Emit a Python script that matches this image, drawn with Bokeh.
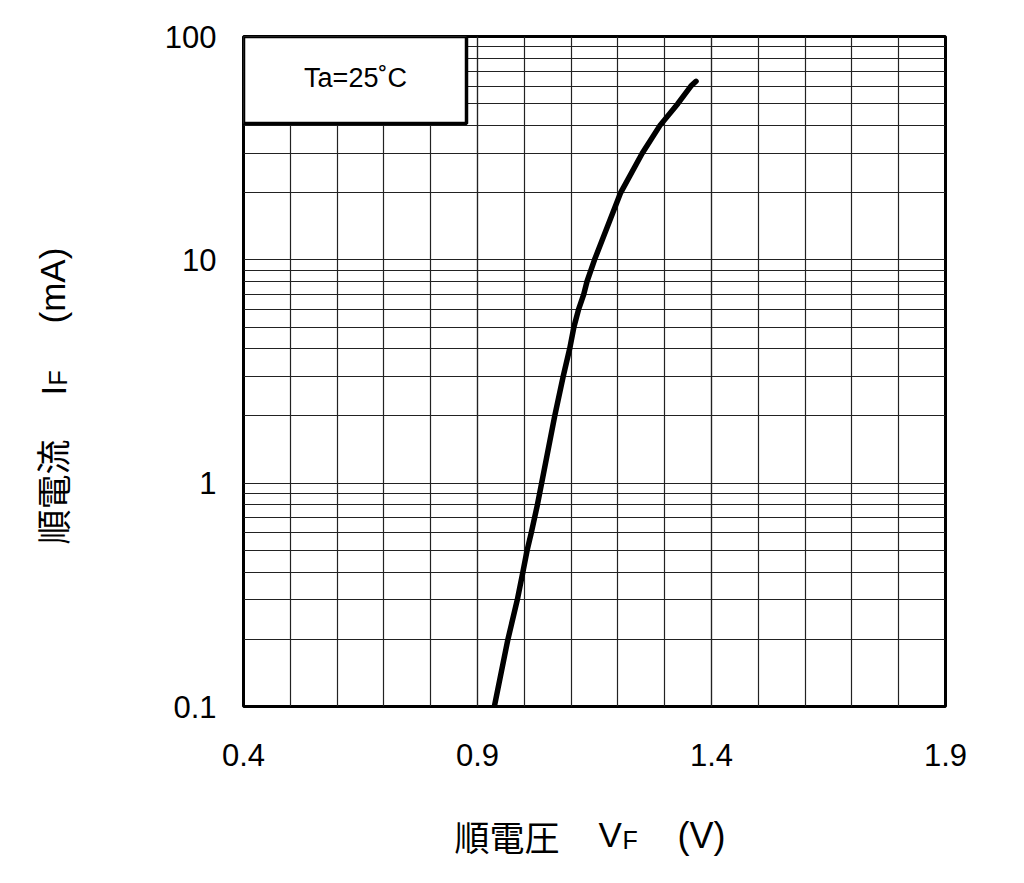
import math
from bokeh.plotting import figure
from bokeh.models import Range1d, FixedTicker, CustomJSTickFormatter, Label, BoxAnnotation
from bokeh.embed import file_html
from bokeh.resources import INLINE

# forward voltage (V) and forward current (mA)
vf = [0.936, 0.965, 0.985, 0.997, 1.006, 1.015, 1.028, 1.037, 1.065, 1.083, 1.097,
      1.106, 1.116, 1.127, 1.134, 1.150, 1.206, 1.252, 1.290, 1.328, 1.356, 1.367]
i_f = [0.1, 0.2, 0.3, 0.4, 0.5, 0.6, 0.8, 1.0, 2.0, 3.0, 4.0,
       5.0, 6.0, 7.0, 8.0, 10.0, 20.0, 30.0, 40.0, 50.0, 60.0, 63.0]

x_ticks = [0.4, 0.9, 1.4, 1.9]
x_minor = [0.5, 0.6, 0.7, 0.8, 0.9, 1.0, 1.1, 1.2, 1.3, 1.4, 1.5, 1.6, 1.7, 1.8]
y_ticks = [0.1, 1, 10, 100]
y_minor = [0.2, 0.3, 0.4, 0.5, 0.6, 0.7, 0.8, 0.9,
           2, 3, 4, 5, 6, 7, 8, 9,
           20, 30, 40, 50, 60, 70, 80, 90]

LAT = "Liberation Sans"
CJK = "Noto Sans CJK JP"

# frame geometry on the canvas (pixels)
FL, FT, FW, FH = 243, 36, 702, 670
X0, X1 = 0.4, 1.9
LY0, LY1 = -1.0, 2.0
W, H = 1000, 874


def dx(px):
    return X0 + (px - FL) * (X1 - X0) / FW


def dy(py):
    return 10 ** (LY1 - (py - FT) * (LY1 - LY0) / FH)


p = figure(width=W, height=H, output_backend="svg", toolbar_location=None,
           y_axis_type="log", x_range=Range1d(X0, X1), y_range=Range1d(0.1, 100),
           min_border_left=FL, min_border_right=W - FL - FW, min_border_top=FT,
           min_border_bottom=H - FT - FH)
p.background_fill_color = "white"
p.border_fill_color = "white"
p.outline_line_color = "black"
p.outline_line_width = 3

p.xaxis.ticker = FixedTicker(ticks=x_ticks, minor_ticks=x_minor)
p.yaxis.ticker = FixedTicker(ticks=y_ticks, minor_ticks=y_minor)
p.yaxis.formatter = CustomJSTickFormatter(code="return tick.toString();")
p.xaxis.formatter = CustomJSTickFormatter(code="return tick.toFixed(1);")
for ax in (p.xaxis, p.yaxis):
    ax.axis_line_color = None
    ax.major_tick_line_color = None
    ax.minor_tick_line_color = None
    ax.major_label_text_font = LAT
    ax.major_label_text_font_size = "31px"
    ax.major_label_text_color = "black"
p.xaxis.major_label_standoff = 31
p.yaxis.major_label_standoff = 21

for g in (p.xgrid, p.ygrid):
    g.grid_line_color = "#222222"
    g.grid_line_width = 1.2
    g.grid_line_alpha = 1.0
    g.minor_grid_line_color = "#222222"
    g.minor_grid_line_width = 1.2
p.xgrid.ticker = FixedTicker(ticks=x_ticks, minor_ticks=x_minor)
p.ygrid.ticker = FixedTicker(ticks=y_ticks, minor_ticks=y_minor)

p.line(vf, i_f, line_color="black", line_width=5.5, line_join="round", line_cap="round")

# condition box
p.add_layout(BoxAnnotation(left=dx(243), right=dx(466), top=dy(36), bottom=dy(123),
                           fill_color="white", fill_alpha=1.0,
                           line_color="black", line_alpha=1.0, line_width=3.5,
                           level="annotation"))
p.add_layout(Label(x=dx(355), y=dy(77), text="Ta=25˚C", text_font=LAT, text_font_size="27px",
                   text_align="center", text_baseline="middle", text_color="black"))

# x-axis title pieces (data-unit anchors, hosted in side panels so they are not clipped)
xt = [("順電圧", CJK, "35px", 454, 835, "below"),
      ("(V)", LAT, "36px", 677, 835, "below"),
      ("V", LAT, "35px", 598, 834, "right"),
      ("F", LAT, "25px", 622, 839, "right")]
for t, f, s, x, y, side in xt:
    p.add_layout(Label(x=dx(x), y=dy(y), text=t, text_font=f, text_font_size=s,
                       text_baseline="middle", text_align="left", text_color="black"),
                 side)

# y-axis title pieces, rotated (reads bottom to top)
yt = [("順電流", CJK, "35px", 51, 544),
      ("I", LAT, "35px", 53, 395),
      ("F", LAT, "25px", 57, 385),
      ("(mA)", LAT, "35px", 52, 323)]
for t, f, s, x, y in yt:
    p.add_layout(Label(x=dx(x), y=dy(y), text=t, text_font=f, text_font_size=s,
                       text_baseline="middle", text_align="left",
                       angle=math.pi / 2, text_color="black"),
                 "left")

open("out.html", "w").write(file_html(p, INLINE))
